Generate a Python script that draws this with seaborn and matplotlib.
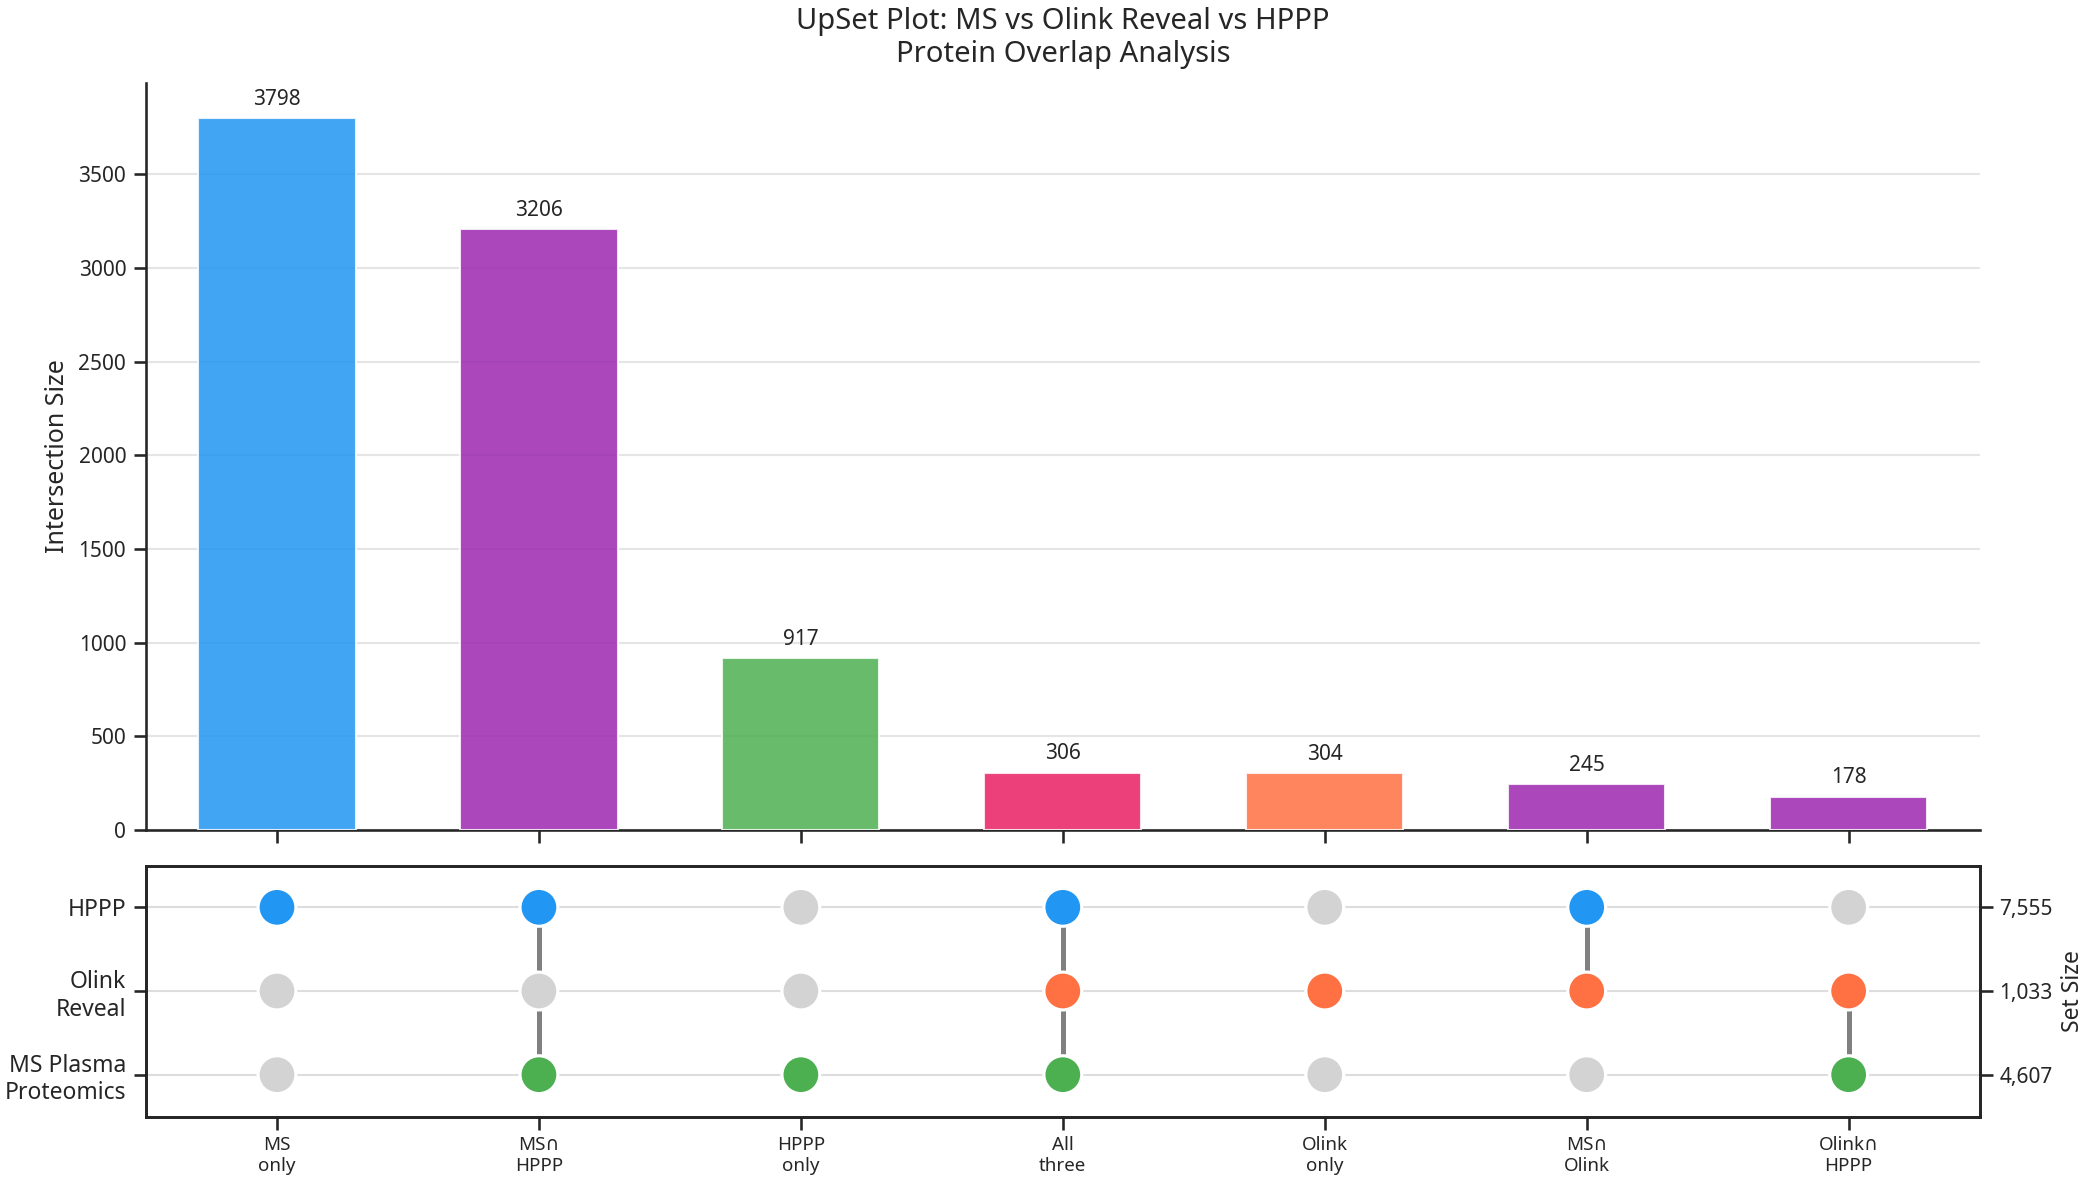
import matplotlib
matplotlib.use('Agg')
import matplotlib.pyplot as plt
import pandas as pd
import seaborn as sns

sns.set_theme(style='ticks')
plt.rcParams['font.family'] = ['Noto Sans', 'DejaVu Sans']

# intersections, in the order shown
combo_labels = ['MS\nonly', 'MS∩\nHPPP', 'HPPP\nonly', 'All\nthree', 'Olink\nonly', 'MS∩\nOlink', 'Olink∩\nHPPP']
combo_sizes = [3798, 3206, 917, 306, 304, 245, 178]
bar_colors = ['#2196F3', '#9C27B0', '#4CAF50', '#E91E63', '#FF7043', '#9C27B0', '#9C27B0']

# matrix rows (bottom to top)
set_names = ['MS Plasma\nProteomics', 'Olink\nReveal', 'HPPP']
set_sizes = ['4,607', '1,033', '7,555']
set_colors = ['#4CAF50', '#FF7043', '#2196F3']

# membership per intersection: rows [MS, Olink, HPPP]
membership = [
    [0, 0, 1],
    [1, 0, 1],
    [1, 0, 0],
    [1, 1, 1],
    [0, 1, 0],
    [0, 1, 1],
    [1, 1, 0],
]

fig = plt.figure(figsize=(2086 / 150, 1184 / 150), dpi=150)
ax_bar = fig.add_axes([0.070, 0.299, 0.879, 0.631])
ax_mat = fig.add_axes([0.070, 0.057, 0.879, 0.212])

# --- bars ---
bar_df = pd.DataFrame({'combo': combo_labels, 'size': combo_sizes})
sns.barplot(data=bar_df, x='combo', y='size', hue='combo', palette=dict(zip(combo_labels, bar_colors)),
            legend=False, width=0.6, alpha=0.85, saturation=1, ax=ax_bar, zorder=3)
for i, v in enumerate(combo_sizes):
    ax_bar.annotate(str(v), (i, v), xytext=(0, 4), textcoords='offset points',
                    ha='center', va='bottom', fontsize=10)
ax_bar.set_xlim(-0.5, len(combo_labels) - 0.5)
ax_bar.set_ylim(0, max(combo_sizes) * 1.05)
ax_bar.set_xticks(range(len(combo_labels)))
ax_bar.set_xticklabels([])
ax_bar.set_xlabel('')
ax_bar.set_ylabel('Intersection Size', fontsize=12)
ax_bar.tick_params(axis='y', labelsize=10)
ax_bar.grid(axis='y', color='#E5E5E5', lw=1, zorder=0)
ax_bar.set_axisbelow(True)
sns.despine(ax=ax_bar)
ax_bar.set_title('UpSet Plot: MS vs Olink Reveal vs HPPP\nProtein Overlap Analysis', fontsize=14, pad=10)

# --- matrix ---
rows = []
for ci, mem in enumerate(membership):
    for ri, on in enumerate(mem):
        rows.append({'col': ci, 'row': ri, 'state': set_names[ri] if on else 'off'})
mat_df = pd.DataFrame(rows)

for ci, mem in enumerate(membership):
    active = [ri for ri, on in enumerate(mem) if on]
    if len(active) > 1:
        ax_mat.plot([ci, ci], [min(active), max(active)], color='#808080', lw=2.4, zorder=2)

palette = dict(zip(set_names, set_colors))
palette['off'] = '#D3D3D3'
sns.scatterplot(data=mat_df, x='col', y='row', hue='state', palette=palette, legend=False,
                s=330, edgecolor='white', linewidth=1.5, ax=ax_mat, zorder=3)

ax_mat.set_xlim(-0.5, len(combo_labels) - 0.5)
ax_mat.set_ylim(-0.5, len(set_names) - 0.5)
ax_mat.set_yticks(range(len(set_names)))
ax_mat.set_yticklabels(set_names, fontsize=11)
ax_mat.set_xticks(range(len(combo_labels)))
ax_mat.set_xticklabels(combo_labels, fontsize=9)
ax_mat.set_xlabel('')
ax_mat.set_ylabel('')
ax_mat.grid(axis='y', color='#DDDDDD', lw=1, zorder=0)
for sp in ax_mat.spines.values():
    sp.set_visible(True)
    sp.set_color('black')

ax_right = ax_mat.twinx()
ax_right.set_ylim(ax_mat.get_ylim())
ax_right.set_yticks(range(len(set_names)))
ax_right.set_yticklabels(set_sizes, fontsize=10)
ax_right.set_ylabel('Set Size', fontsize=11)

fig.savefig('out.png', dpi=150)
